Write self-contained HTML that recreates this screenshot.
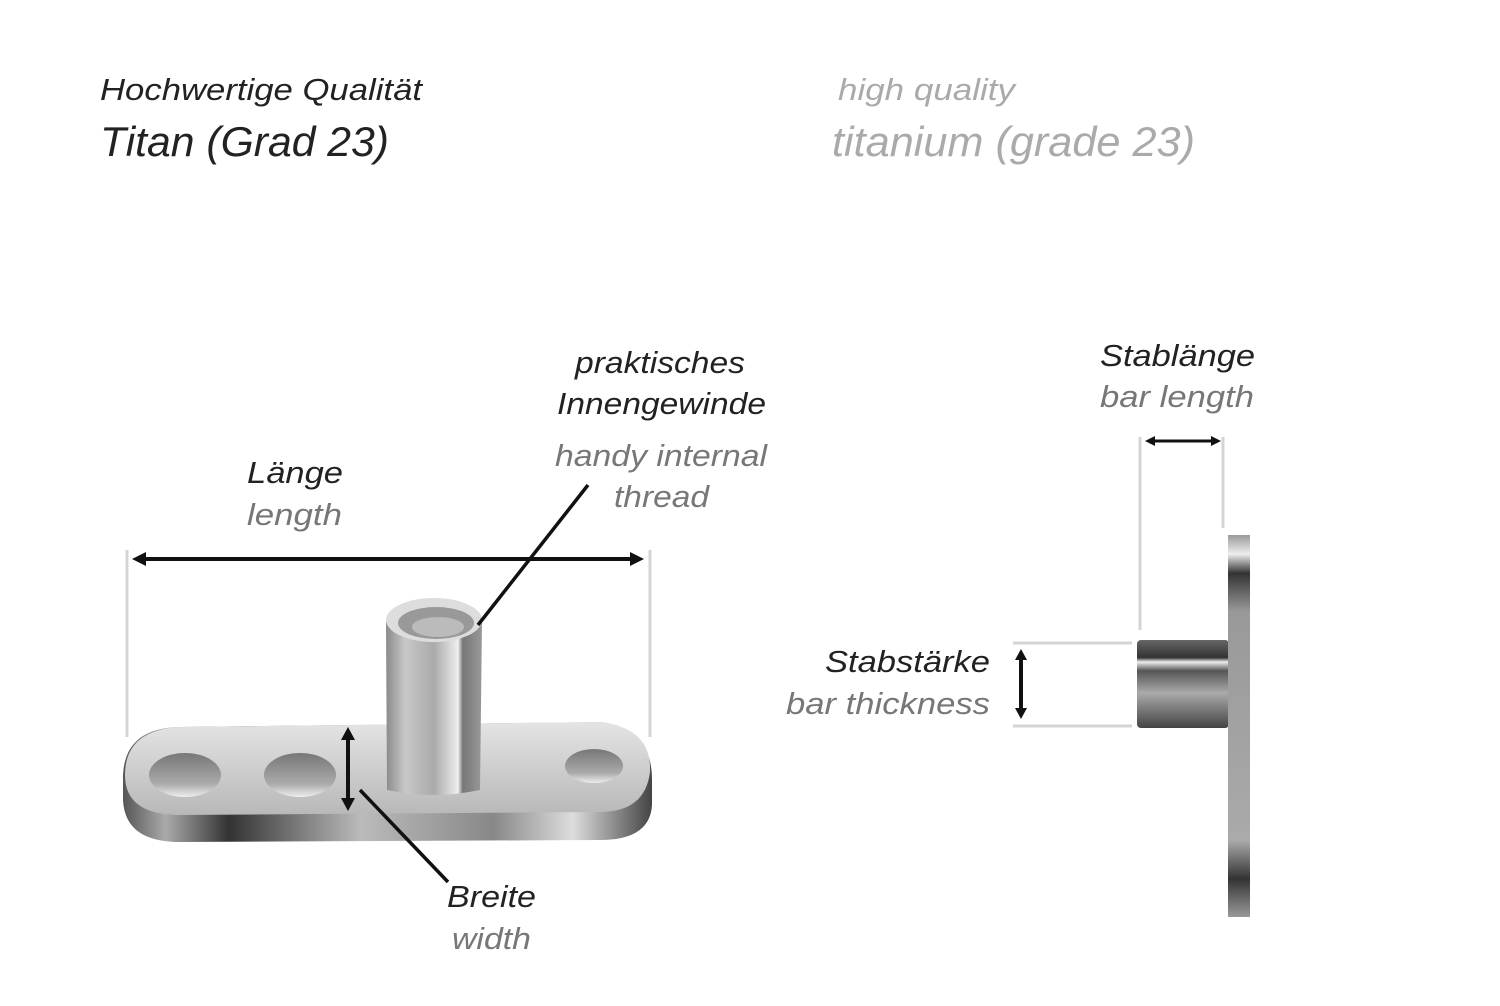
<!DOCTYPE html>
<html><head><meta charset="utf-8"><style>
html,body{margin:0;padding:0;background:#fff;}
svg text{font-family:"Liberation Sans",sans-serif;font-style:italic;}
</style></head><body>
<svg width="1500" height="1001" viewBox="0 0 1500 1001" xmlns="http://www.w3.org/2000/svg">
<defs>
<linearGradient id="side" x1="0" x2="1" y1="0" y2="0">
<stop offset="0" stop-color="#555"/><stop offset="0.08" stop-color="#aaa"/><stop offset="0.2" stop-color="#333"/><stop offset="0.45" stop-color="#bbb"/><stop offset="0.7" stop-color="#888"/><stop offset="0.85" stop-color="#ddd"/><stop offset="1" stop-color="#444"/>
</linearGradient>
<linearGradient id="top" x1="0" x2="0" y1="0" y2="1">
<stop offset="0" stop-color="#e4e4e4"/><stop offset="1" stop-color="#b8b8b8"/>
</linearGradient>
<linearGradient id="post" x1="0" x2="1" y1="0" y2="0">
<stop offset="0" stop-color="#8a8a8a"/><stop offset="0.2" stop-color="#c8c8c8"/><stop offset="0.5" stop-color="#aaa"/><stop offset="0.75" stop-color="#eee"/><stop offset="0.8" stop-color="#777"/><stop offset="1" stop-color="#999"/>
</linearGradient>
<linearGradient id="hole" x1="0" x2="0" y1="0" y2="1">
<stop offset="0" stop-color="#777"/><stop offset="0.7" stop-color="#aaa"/><stop offset="1" stop-color="#eee"/>
</linearGradient>
<linearGradient id="cyl" x1="0" x2="0" y1="0" y2="1">
<stop offset="0" stop-color="#666"/><stop offset="0.2" stop-color="#333"/><stop offset="0.25" stop-color="#eee"/><stop offset="0.35" stop-color="#555"/><stop offset="0.6" stop-color="#aaa"/><stop offset="1" stop-color="#444"/>
</linearGradient>
<linearGradient id="plate" x1="0" x2="0" y1="0" y2="1">
<stop offset="0" stop-color="#999"/><stop offset="0.05" stop-color="#eee"/><stop offset="0.1" stop-color="#333"/><stop offset="0.2" stop-color="#999"/><stop offset="0.8" stop-color="#aaa"/><stop offset="0.9" stop-color="#333"/><stop offset="1" stop-color="#999"/>
</linearGradient>
</defs>

<text x="100" y="100" font-size="31" fill="#222" textLength="322" lengthAdjust="spacingAndGlyphs">Hochwertige Qualität</text>
<text x="100" y="156" font-size="42" fill="#222" textLength="289" lengthAdjust="spacingAndGlyphs">Titan (Grad 23)</text>
<text x="838" y="100" font-size="31" fill="#aaa" textLength="177" lengthAdjust="spacingAndGlyphs">high quality</text>
<text x="832" y="156" font-size="42" fill="#aaa" textLength="363" lengthAdjust="spacingAndGlyphs">titanium (grade 23)</text>

<g font-size="31" lengthAdjust="spacingAndGlyphs">
<text x="575" y="373" fill="#222" textLength="170" lengthAdjust="spacingAndGlyphs">praktisches</text>
<text x="557" y="414" fill="#222" textLength="209" lengthAdjust="spacingAndGlyphs">Innengewinde</text>
<text x="555" y="466" fill="#777" textLength="212" lengthAdjust="spacingAndGlyphs">handy internal</text>
<text x="614" y="507" fill="#777" textLength="95" lengthAdjust="spacingAndGlyphs">thread</text>
<text x="247" y="483" fill="#222" textLength="96" lengthAdjust="spacingAndGlyphs">Länge</text>
<text x="247" y="525" fill="#777" textLength="95" lengthAdjust="spacingAndGlyphs">length</text>
<text x="1100" y="366" fill="#222" textLength="155" lengthAdjust="spacingAndGlyphs">Stablänge</text>
<text x="1100" y="407" fill="#777" textLength="154" lengthAdjust="spacingAndGlyphs">bar length</text>
<text x="447" y="907" fill="#222" textLength="89" lengthAdjust="spacingAndGlyphs">Breite</text>
<text x="452" y="949" fill="#777" textLength="79" lengthAdjust="spacingAndGlyphs">width</text>
<text x="825" y="672" fill="#222" textLength="165" lengthAdjust="spacingAndGlyphs">Stabstärke</text>
<text x="786" y="714" fill="#777" textLength="204" lengthAdjust="spacingAndGlyphs">bar thickness</text>
</g>

<!-- guides -->
<g stroke="#d4d4d4" stroke-width="3">
<line x1="127" y1="550" x2="127" y2="737"/>
<line x1="650" y1="550" x2="650" y2="737"/>
<line x1="1140" y1="437" x2="1140" y2="630"/>
<line x1="1223" y1="437" x2="1223" y2="528"/>
<line x1="1013" y1="643" x2="1132" y2="643"/>
<line x1="1013" y1="726" x2="1132" y2="726"/>
</g>

<!-- base -->
<path d="M180 727 L600 722 Q652 728 652 780 L652 805 Q650 840 600 840 L180 842 Q125 842 123 800 L123 775 Q125 728 180 727Z" fill="url(#side)"/>
<path d="M180 727 L600 722 Q652 728 650 772 Q645 812 600 812 L180 815 Q125 815 125 775 Q125 730 180 727Z" fill="url(#top)"/>
<ellipse cx="185" cy="775" rx="36" ry="22" fill="url(#hole)"/>
<ellipse cx="300" cy="775" rx="36" ry="22" fill="url(#hole)"/>
<ellipse cx="594" cy="766" rx="29" ry="17" fill="url(#hole)"/>
<!-- post -->
<path d="M386 622 L482 622 L480 790 Q433 800 387 790Z" fill="url(#post)"/>
<ellipse cx="434" cy="620" rx="48" ry="22" fill="#ddd"/>
<ellipse cx="436" cy="623" rx="38" ry="16" fill="#999"/>
<ellipse cx="438" cy="627" rx="26" ry="10" fill="#bbb"/>

<!-- side view -->
<rect x="1137" y="640" width="92" height="88" rx="4" fill="url(#cyl)"/>
<rect x="1228" y="535" width="22" height="382" fill="url(#plate)"/>

<!-- arrows/lines -->
<g stroke="#111" stroke-width="4" fill="none">
<line x1="140" y1="559" x2="636" y2="559"/>
<line x1="588" y1="485" x2="478" y2="625" stroke-width="3.5"/>
<line x1="360" y1="790" x2="448" y2="882" stroke-width="3.5"/>
<line x1="348" y1="735" x2="348" y2="803"/>
<line x1="1152" y1="441" x2="1214" y2="441" stroke-width="3"/>
<line x1="1021" y1="656" x2="1021" y2="712"/>
</g>
<g fill="#111">
<polygon points="132,559 146,552 146,566"/>
<polygon points="644,559 630,552 630,566"/>
<polygon points="348,727 341,740 355,740"/>
<polygon points="348,811 341,798 355,798"/>
<polygon points="1145,441 1155,436 1155,446"/>
<polygon points="1221,441 1211,436 1211,446"/>
<polygon points="1021,649 1015,660 1027,660"/>
<polygon points="1021,719 1015,708 1027,708"/>
</g>
</svg>
</body></html>
